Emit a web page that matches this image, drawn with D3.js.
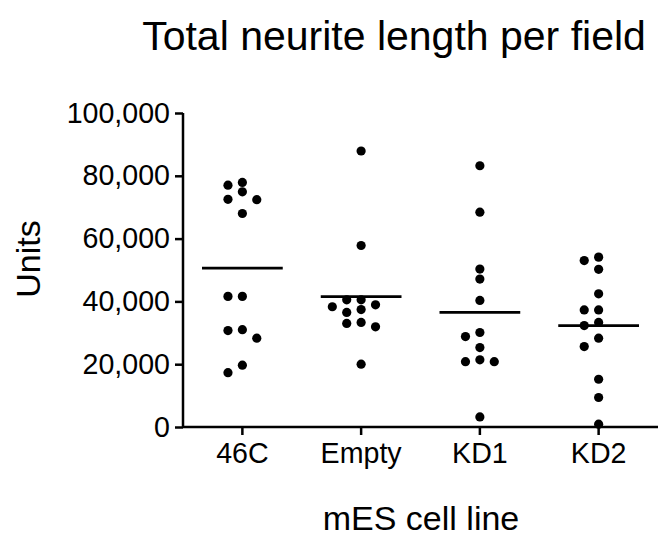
<!DOCTYPE html>
<html>
<head>
<meta charset="utf-8">
<script src="https://cdn.jsdelivr.net/npm/d3@7"></script>
<style>
  body { margin: 0; background: #fff; }
  svg text { font-family: "Liberation Sans", Arial, sans-serif; fill: #000; }
</style>
</head>
<body>
<div id="chart"></div>
<script>
// values (units)
const cellLines = ["46C", "Empty", "KD1", "KD2"];
const vals46C = [77900, 77000, 74900, 72500, 72400, 68000, 41600, 41600, 31000, 30700, 28300, 19700, 17300];
const valsEmpty = [87900, 57800, 40500, 40500, 38900, 38300, 37400, 36500, 33300, 33000, 31900, 20000];
const valsKD1 = [83200, 68400, 50300, 47100, 40300, 30100, 28800, 25300, 21400, 20800, 20800, 3200];
const valsKD2 = [54100, 53000, 50200, 42400, 37300, 37300, 33300, 32300, 28300, 25600, 15200, 9400, 900];
const groupMeans = [50600, 41500, 36500, 32300];
const yTicks = [0, 20000, 40000, 60000, 80000, 100000];

const W = 660, H = 537;
const plot = { left: 183, right: 658, top: 113, bottom: 427 };
const R = 4.6;

const svg = d3.select("#chart").append("svg")
	.attr("width", W)
	.attr("height", H);

const x = d3.scaleBand()
	.domain(cellLines)
	.range([plot.left, plot.right]);

const y = d3.scaleLinear()
	.domain([0, 100000])
	.range([plot.bottom, plot.top]);

const fmt = d3.format(",");

// Y axis
const yAxis = svg.append("g")
	.attr("transform", `translate(${plot.left},0)`)
	.call(d3.axisLeft(y).tickValues(yTicks).tickFormat(fmt).tickSize(8).tickPadding(5));
yAxis.select(".domain").attr("d", `M0,${plot.top}V${plot.bottom}`);
yAxis.selectAll("line, .domain").attr("stroke", "#000").attr("stroke-width", 2.5);
yAxis.selectAll("text").style("font-size", "28.6px");

// X axis
const xAxis = svg.append("g")
	.attr("transform", `translate(0,${plot.bottom})`)
	.call(d3.axisBottom(x).tickSize(8).tickPadding(8));
xAxis.select(".domain").attr("d", `M${plot.left},0H${plot.right}`);
xAxis.selectAll("line, .domain").attr("stroke", "#000").attr("stroke-width", 2.5);
xAxis.selectAll("text").style("font-size", "28.6px");

// beeswarm: each dot takes the first free column slot near the centre
function swarm(values) {
	const placed = [];
	const step = 7.2;
	values.forEach(v => {
		const py = y(v);
		for (let k = 0; k < 40; k++) {
			const off = k === 0 ? 0 : (k % 2 ? -1 : 1) * Math.ceil(k / 2) * step;
			const hit = placed.some(p => Math.abs(p.dx - off) < 13 && Math.abs(p.y - py) < 8.8);
			if (!hit) { placed.push({ dx: off, y: py }); break; }
		}
	});
	return placed;
}

const groups = [vals46C, valsEmpty, valsKD1, valsKD2];
groups.forEach((vals, i) => {
	const cx = x(cellLines[i]) + x.bandwidth() / 2;
	const g = svg.append("g");
	g.selectAll("circle")
		.data(swarm(vals))
		.enter()
		.append("circle")
		.attr("cx", d => cx + d.dx)
		.attr("cy", d => d.y)
		.attr("r", R)
		.attr("fill", "#000");
	g.append("line")
		.attr("x1", cx - x.bandwidth() * 0.34)
		.attr("x2", cx + x.bandwidth() * 0.34)
		.attr("y1", y(groupMeans[i]))
		.attr("y2", y(groupMeans[i]))
		.attr("stroke", "#000")
		.attr("stroke-width", 2.8);
});

// titles
svg.append("text")
	.attr("x", 394)
	.attr("y", 50)
	.attr("text-anchor", "middle")
	.style("font-size", "41px")
	.text("Total neurite length per field");

svg.append("text")
	.attr("transform", "translate(40,259) rotate(-90)")
	.attr("text-anchor", "middle")
	.style("font-size", "34px")
	.text("Units");

svg.append("text")
	.attr("x", 421)
	.attr("y", 530)
	.attr("text-anchor", "middle")
	.style("font-size", "34px")
	.text("mES cell line");
</script>
</body>
</html>
